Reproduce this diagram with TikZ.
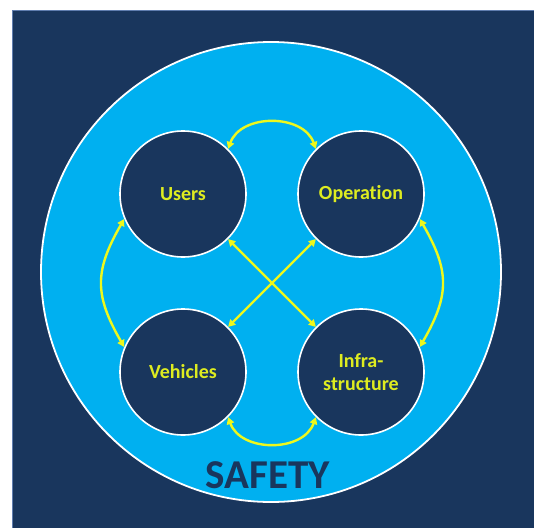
\documentclass[tikz,border=0pt]{standalone}
\usepackage{fontspec}
\setmainfont{Carlito}[RawFeature=-liga]
\usetikzlibrary{arrows.meta}
\definecolor{navy}{RGB}{25,54,93}
\definecolor{skyb}{RGB}{0,176,240}
\definecolor{txtyel}{RGB}{222,236,32}
\definecolor{arryel}{RGB}{238,248,28}
\definecolor{edgeb}{RGB}{95,125,175}
\tikzset{
  part/.style={circle, fill=navy, draw=white, line width=1.6pt, minimum size=126pt, inner sep=0pt,
    text=txtyel, font=\fontsize{20}{23}\selectfont\bfseries, align=center},
  link/.style={draw=arryel, line width=2.4pt, {Triangle[length=7pt,width=7.5pt]}-{Triangle[length=7pt,width=7.5pt]}}
}
\begin{document}
\begin{tikzpicture}[x=1pt,y=-1pt]
\useasboundingbox (0,0) rectangle (534,527);
\fill[white] (0,0) rectangle (534,527);
\draw[fill=navy, draw=edgeb, line width=1pt] (12.5,10.5) rectangle (536,530);
\node[circle, fill=skyb, draw=white, line width=1.8pt, minimum size=460pt, inner sep=0pt] (safety) at (271,272) {};
\node[part] (users) at (183,194) {Users};
\node[part] (oper) at (361,194) {Operation};
\node[part] (veh) at (183,372) {Vehicles};
\node[part] (infra) at (361,372) {Infra-\\structure};
\node[text=navy, font=\fontsize{41}{45}\selectfont\bfseries] (label) at (268,475) {SAFETY};
\draw[link] (users.45) to[out=70,in=110,looseness=1.1] (oper.135);
\draw[link] (veh.-45) to[out=-70,in=-110,looseness=1.1] (infra.225);
\draw[link] (users.203) to[out=240,in=120,looseness=1.2] (veh.157);
\draw[link] (oper.-23) to[out=-60,in=60,looseness=1.2] (infra.23);
\draw[link] (users.-45) -- (infra.135);
\draw[link] (oper.225) -- (veh.45);
\end{tikzpicture}
\end{document}
